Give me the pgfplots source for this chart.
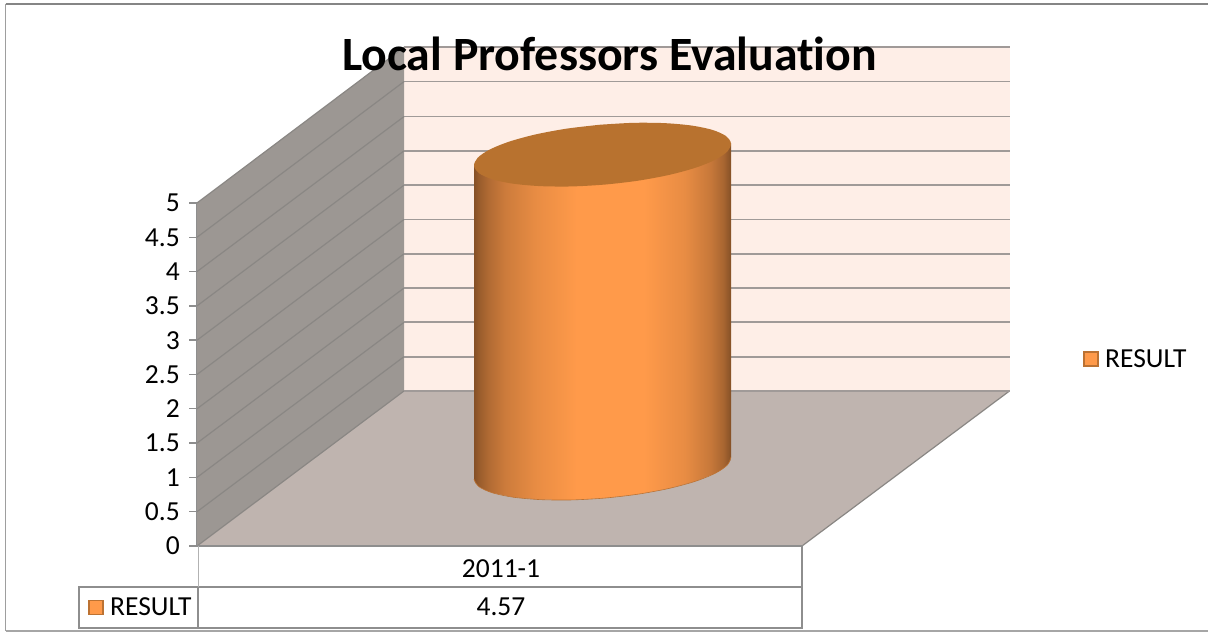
\documentclass[border=0pt]{standalone}
\usepackage{pgfplots}
\pgfplotsset{compat=1.18}
\usepackage{pgfplotstable}
\usepackage{fontspec}
\setmainfont[Ligatures=NoCommon]{Carlito}

\definecolor{backwall}{HTML}{FEEEE7}
\definecolor{sidewall}{HTML}{9C9793}
\definecolor{floorfill}{HTML}{BFB4AF}
\definecolor{gridback}{HTML}{A09A98}
\definecolor{gridside}{HTML}{8A8784}
\definecolor{frameline}{HTML}{8E8E8E}
\definecolor{cyltop}{HTML}{B8722F}
\definecolor{barfill}{HTML}{FF9A4A}
\definecolor{baredge}{HTML}{BC7232}

% Horizontal light falloff across the cylinder wall;
% the stops lie in the central 25bp to 75bp band that a path's box maps onto
\pgfdeclarehorizontalshading{cyl}{100bp}{
  color(0bp)=(black!48!barfill);
  color(25bp)=(black!48!barfill);
  color(26bp)=(black!40!barfill);
  color(28bp)=(black!30!barfill);
  color(31bp)=(black!20!barfill);
  color(37bp)=(black!9!barfill);
  color(45bp)=(barfill);
  color(58bp)=(barfill);
  color(66bp)=(black!9!barfill);
  color(71bp)=(black!22!barfill);
  color(73.5bp)=(black!34!barfill);
  color(75bp)=(black!48!barfill);
  color(100bp)=(black!48!barfill)}

% Plotted value and the height of the cylinder's base centre on the floor
\def\result{4.57}
\def\base{1.135}

% Outline of an end cap: offsets from its centre, in pixels
\pgfplotstableread{
dx dy
-2.6 29.9
-35.8 26.0
-66.5 20.3
-92.7 13.2
-112.6 5.2
-124.8 -3.1
-128.5 -11.2
-123.5 -18.6
-110.0 -24.7
-89.0 -29.1
-62.0 -31.5
-30.8 -31.8
2.6 -29.9
35.8 -26.0
66.5 -20.3
92.7 -13.2
112.6 -5.2
124.8 3.1
128.5 11.2
123.5 18.6
110.0 24.7
89.0 29.1
62.0 31.5
30.8 31.8
-2.6 29.9
}\capoutline

% Lower half of the base cap
\pgfplotstableread{
dx dy
-128.5 -11.2
-123.5 -18.6
-110.0 -24.7
-89.0 -29.1
-62.0 -31.5
-30.8 -31.8
2.6 -29.9
35.8 -26.0
66.5 -20.3
92.7 -13.2
112.6 -5.2
124.8 3.1
128.5 11.2
}\basearc

% Wall silhouette: base arc, then the two upper corners (top = 1 lifts by the value)
\pgfplotstableread{
dx dy top
-128.5 -11.2 0
-127.1 -15.0 0
-123.5 -18.6 0
-117.7 -21.8 0
-110.0 -24.7 0
-89.0 -29.1 0
-62.0 -31.5 0
-30.8 -31.8 0
2.6 -29.9 0
35.8 -26.0 0
66.5 -20.3 0
92.7 -13.2 0
112.6 -5.2 0
119.7 -1.1 0
124.8 3.1 0
127.7 7.2 0
128.5 11.2 0
128.5 11.2 1
-128.5 -11.2 1
}\wallshape

\begin{document}
\begin{tikzpicture}
\path[use as bounding box, fill=white] (0,0) rectangle (1208pt,632pt);
\begin{axis}[
  at={(197pt,86pt)}, anchor=south west,
  scale only axis, width=605pt, height=343pt,
  xmin=197, xmax=802, ymin=0, ymax=5,
  clip=false,
  axis y line=left, axis x line=none,
  y axis line style={-, color=frameline, line width=1.4pt},
  ytick={0,0.5,...,5},
  ytick style={color=frameline, line width=1.4pt},
  tick align=outside, major tick length=8pt,
  yticklabel style={inner sep=0pt, xshift=-9pt, font=\fontsize{27.5}{30}\selectfont, text=black},
  /pgf/number format/assume math mode=true,
]
% chart frame
\addplot[color=black!48, line width=1.6pt] coordinates {(5.5,7.901) (1208,7.901)};
\addplot[color=black!38, line width=1.6pt] coordinates {(5.5,7.901) (5.5,-1.239)};
\addplot[color=black!35, line width=1.2pt] coordinates {(5.5,-1.239) (1208,-1.239)};

% back wall, side wall and floor
\addplot[fill=backwall, draw=none] coordinates {(404,2.26) (1009.5,2.26) (1009.5,7.27) (404,7.27)} -- cycle;
\addplot[fill=sidewall, draw=none] coordinates {(197,0) (404,2.26) (404,7.27) (197,5)} -- cycle;
\addplot[fill=floorfill, draw=none] coordinates {(197,0) (404,2.26) (1009.5,2.26) (802,0)} -- cycle;
\addplot[color=gridside, line width=1.2pt] coordinates {(197,0) (404,2.26)};
\addplot[color=gridside, line width=1.2pt] coordinates {(802,0) (1009.5,2.26)};

% gridlines across side wall and back wall
\addplot[color=gridback, line width=1.8pt] coordinates {(404,2.26) (1009.5,2.26)};
\addplot[color=gridside, line width=1.2pt] coordinates {(197,0.5) (404,2.76)};
\addplot[color=gridback, line width=1.8pt] coordinates {(404,2.76) (1009.5,2.76)};
\addplot[color=gridside, line width=1.2pt] coordinates {(197,1) (404,3.26)};
\addplot[color=gridback, line width=1.8pt] coordinates {(404,3.26) (1009.5,3.26)};
\addplot[color=gridside, line width=1.2pt] coordinates {(197,1.5) (404,3.76)};
\addplot[color=gridback, line width=1.8pt] coordinates {(404,3.76) (1009.5,3.76)};
\addplot[color=gridside, line width=1.2pt] coordinates {(197,2) (404,4.26)};
\addplot[color=gridback, line width=1.8pt] coordinates {(404,4.26) (1009.5,4.26)};
\addplot[color=gridside, line width=1.2pt] coordinates {(197,2.5) (404,4.76)};
\addplot[color=gridback, line width=1.8pt] coordinates {(404,4.76) (1009.5,4.76)};
\addplot[color=gridside, line width=1.2pt] coordinates {(197,3) (404,5.26)};
\addplot[color=gridback, line width=1.8pt] coordinates {(404,5.26) (1009.5,5.26)};
\addplot[color=gridside, line width=1.2pt] coordinates {(197,3.5) (404,5.76)};
\addplot[color=gridback, line width=1.8pt] coordinates {(404,5.76) (1009.5,5.76)};
\addplot[color=gridside, line width=1.2pt] coordinates {(197,4) (404,6.26)};
\addplot[color=gridback, line width=1.8pt] coordinates {(404,6.26) (1009.5,6.26)};
\addplot[color=gridside, line width=1.2pt] coordinates {(197,4.5) (404,6.77)};
\addplot[color=gridback, line width=1.8pt] coordinates {(404,6.77) (1009.5,6.77)};
\addplot[color=gridside, line width=1.2pt] coordinates {(197,5) (404,7.27)};
\addplot[color=gridback, line width=1.8pt] coordinates {(404,7.27) (1009.5,7.27)};

% data table below the floor
\addplot[color=frameline, line width=1.6pt] coordinates {(197,0) (802,0) (802,-1.195) (79,-1.195) (79,-0.598) (802,-0.598)};
\addplot[color=black!30, line width=1pt] coordinates {(198,0) (198,-0.598)};
\addplot[color=frameline, line width=1.8pt] coordinates {(198,-0.598) (198,-1.195)};

% cylinder: wall, base edge, top cap
\addplot[shading=cyl, draw=none]
  table[x expr=602.5+\thisrow{dx}, y expr=\base+\thisrow{top}*\result+\thisrow{dy}/68.6] {\wallshape};
\addplot[smooth, color=baredge, line width=0.6pt]
  table[x expr=602.5+\thisrow{dx}, y expr=\base+\thisrow{dy}/68.6] {\basearc};
\addplot[smooth, fill=cyltop, draw=none]
  table[x expr=602.5+\thisrow{dx}, y expr=\base+\result+\thisrow{dy}/68.6] {\capoutline};

% legend keys
\addplot[only marks, mark=square*, mark size=7pt, mark options={fill=barfill, draw=baredge, line width=1.6pt}]
  coordinates {(1090.7,2.722) (95.7,-0.894)};

\node[anchor=base west, inner sep=0pt, font=\fontsize{27.5}{30}\selectfont] at (axis cs:1105,2.609) {RESULT};
\node[anchor=base west, inner sep=0pt, font=\fontsize{27.5}{30}\selectfont] at (axis cs:110,-1.006) {RESULT};
\node[anchor=base, inner sep=0pt, font=\fontsize{27.5}{30}\selectfont] at (axis cs:501,-0.466) {2011-1};
\node[anchor=base, inner sep=0pt, font=\fontsize{27.5}{30}\selectfont] at (axis cs:501,-1.006) {\result};
\node[anchor=base, inner sep=0pt, font=\fontsize{47.8}{54}\selectfont\bfseries] at (axis cs:609.5,6.925) {Local Professors Evaluation};
\end{axis}
\end{tikzpicture}
\end{document}
